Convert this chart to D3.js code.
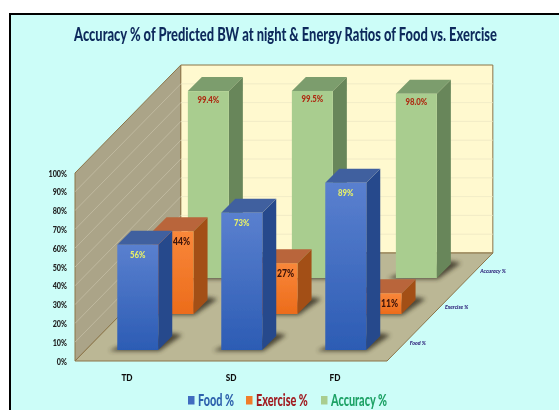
<!DOCTYPE html>
<html>
<head>
<meta charset="utf-8">
<script src="https://cdn.jsdelivr.net/npm/d3@7/dist/d3.min.js"></script>
<style>
  html, body { margin: 0; padding: 0; background: #fff; overflow: hidden; }
  svg { display: block; }
  text { font-family: Lato, "Open Sans", sans-serif; font-weight: 900; }
</style>
</head>
<body>
<div id="chart"></div>
<script>
const categories = ['TD', 'SD', 'FD'];
const seriesNames = ['Food %', 'Exercise %', 'Accuracy %'];
const foodValues = [56, 73, 89];
const exerciseValues = [44, 27, 11];
const accuracyValues = [99.4, 99.5, 98.0];
const accuracyLabels = ['99.4%', '99.5%', '98.0%'];
const yTicks = [0, 10, 20, 30, 40, 50, 60, 70, 80, 90, 100];

const width = 559, height = 410;
const svg = d3.select('#chart').append('svg').attr('width', width).attr('height', height);

const x = d3.scaleBand().domain(categories).range([75, 387]).paddingInner(0.606).paddingOuter(0.303);
const xStep = d3.scaleBand().domain(categories).range([75, 387]);
const y = d3.scaleLinear().domain([0, 100]).range([361, 173]);
const depth = d3.scaleBand().domain(seriesNames).range([0, 108]).paddingInner(0.611).paddingOuter(0.305);
const maxDepth = 108;
const skew = 0.98; // depth runs a little steeper than 45 degrees

const styles = {
  'Food %': { top: '#41609f', side: '#27498c', a: '#5a80cf', b: '#2c5cb4', label: '#e6ef6a', dx: 0, dy: 10, size: 10 },
  'Exercise %': { top: '#b9653a', side: '#a34f17', a: '#f9873a', b: '#ec6c1b', label: '#3c1208', dx: 8.5, dy: 10, size: 11 },
  'Accuracy %': { top: '#7b9d6d', side: '#68865a', a: '#a9cd8f', b: '#a9cd8f', label: '#ae2a12', dx: 0, dy: 8, size: 10 }
};

const defs = svg.append('defs');
defs.append('filter').attr('id', 'soft').attr('x', '-30%').attr('y', '-30%').attr('width', '160%').attr('height', '160%')
  .append('feGaussianBlur').attr('stdDeviation', 2);
defs.append('filter').attr('id', 'slight')
  .attr('filterUnits', 'userSpaceOnUse').attr('x', 0).attr('y', 0).attr('width', width).attr('height', height)
  .append('feGaussianBlur').attr('stdDeviation', 0.35);
seriesNames.forEach((s, i) => {
  const g = defs.append('linearGradient').attr('id', 'front' + i).attr('x1', 0).attr('y1', 0).attr('x2', 0).attr('y2', 1);
  g.append('stop').attr('offset', '0%').attr('stop-color', styles[s].a);
  g.append('stop').attr('offset', '100%').attr('stop-color', styles[s].b);
});

const pts = a => a.map(p => p.join(',')).join(' ');

// narrow text the way the condensed original font looks
function squeezed(parent, str, px, py, size, sx, anchor) {
  return parent.append('text')
    .attr('transform', `translate(${px},${py}) scale(${sx},1)`)
    .attr('dy', '0.35em').attr('text-anchor', anchor || 'middle')
    .attr('font-size', size).text(str);
}

svg.append('rect').attr('width', width).attr('height', height).attr('fill', '#fff');
svg.append('rect').attr('x', 10).attr('y', 14).attr('width', width).attr('height', height)
  .attr('fill', '#ccfdf8').attr('stroke', '#000').attr('stroke-width', 2);

const root = svg.append('g').attr('filter', 'url(#slight)');

// walls and floor
const x0 = xStep.range()[0], x1 = xStep.range()[1];
const backX0 = x0 + maxDepth * skew, backX1 = x1 + maxDepth * skew;
const backBase = y(0) - maxDepth, backTop = y(100) - maxDepth;
root.append('polygon')
  .attr('points', pts([[x0, y(0)], [backX0, backBase], [backX0, backTop], [x0, y(100)]]))
  .attr('fill', '#aba488').attr('stroke', '#8b7448').attr('stroke-width', 1);
root.append('polygon')
  .attr('points', pts([[backX0, backBase], [backX1, backBase], [backX1, backTop], [backX0, backTop]]))
  .attr('fill', '#fff9cf').attr('stroke', '#8b7448').attr('stroke-width', 1);
root.append('polygon')
  .attr('points', pts([[x0, y(0)], [x1, y(0)], [backX1, backBase], [backX0, backBase]]))
  .attr('fill', '#bbb795').attr('stroke', '#8b7448').attr('stroke-width', 1);

// gridlines on both walls
yTicks.slice(1, -1).forEach(t => {
  root.append('line').attr('x1', x0).attr('y1', y(t)).attr('x2', backX0).attr('y2', y(t) - maxDepth)
    .attr('stroke', '#c4bea4').attr('stroke-width', 0.8);
  root.append('line').attr('x1', backX0).attr('y1', y(t) - maxDepth).attr('x2', backX1).attr('y2', y(t) - maxDepth)
    .attr('stroke', '#eee8c4').attr('stroke-width', 0.8);
});

// bars, back row first
const rows = [
  { name: 'Food %', values: foodValues, labels: foodValues.map(v => v + '%') },
  { name: 'Exercise %', values: exerciseValues, labels: exerciseValues.map(v => v + '%') },
  { name: 'Accuracy %', values: accuracyValues, labels: accuracyLabels }
];

[2, 1, 0].forEach(r => {
  const row = rows[r], st = styles[row.name];
  const d = depth(row.name), dw = depth.bandwidth(), w = x.bandwidth();
  const g = root.append('g').attr('class', 'row');
  row.values.forEach((v, i) => {
    const left = x(categories[i]) + d * skew;
    const base = y(0) - d, top = base - (y(0) - y(v));
    const right = left + w;
    g.append('polygon')
      .attr('points', pts([[left - 8, base + 1], [right + 1, base + 1], [right + dw + 10, base - dw - 1], [right + dw, base - dw - 3], [left, base - 3]]))
      .attr('fill', '#3a3526').attr('opacity', 0.85).attr('filter', 'url(#soft)');
    g.append('polygon')
      .attr('points', pts([[right, top], [right + dw, top - dw], [right + dw, base - dw], [right, base]]))
      .attr('fill', st.side);
    g.append('polygon')
      .attr('points', pts([[left, top], [left + dw, top - dw], [right + dw, top - dw], [right, top]]))
      .attr('fill', st.top);
    g.append('rect').attr('x', left).attr('y', top).attr('width', w).attr('height', base - top)
      .attr('fill', `url(#front${r})`);
    squeezed(g, row.labels[i], left + w / 2 + st.dx, top + st.dy, st.size, 0.78).attr('fill', st.label);
  });
});

// y axis
const yAxis = root.append('g').attr('transform', `translate(${x0},0)`)
  .call(d3.axisLeft(y).tickValues(yTicks).tickSize(0).tickPadding(8).tickFormat(t => t + '%'));
yAxis.select('.domain').remove();
yAxis.selectAll('text').attr('x', 0).attr('transform', 'translate(-8,0) scale(0.76,1)')
  .attr('font-size', 9.5).attr('fill', '#222');

// category labels
categories.forEach(c => {
  squeezed(root, c, xStep(c) + xStep.bandwidth() / 2, 377, 10, 0.82).attr('fill', '#111');
});

// depth axis labels
seriesNames.forEach(s => {
  squeezed(root, s, x1 + (depth(s) + depth.bandwidth() / 2) * skew + 5, y(0) - depth(s) - depth.bandwidth() / 2, 6.2, 0.85, 'start')
    .attr('font-style', 'italic').attr('font-weight', 400).attr('fill', '#2c1f78');
});

// title
squeezed(root, 'Accuracy % of Predicted BW at night & Energy Ratios of Food vs. Exercise', 285.5, 35, 18, 0.717)
  .attr('fill', '#0f2a5c');

// legend
const legendItems = [
  { name: 'Food %', sx: 188, tx: 198, swatch: '#3f6cc0', color: '#2f62ad' },
  { name: 'Exercise %', sx: 246, tx: 256, swatch: '#f07d2c', color: '#a11d22' },
  { name: 'Accuracy %', sx: 321, tx: 331, swatch: '#a9cd8f', color: '#1fa266' }
];
const legend = root.append('g').attr('class', 'legend');
legendItems.forEach(l => {
  legend.append('rect').attr('x', l.sx).attr('y', 396).attr('width', 6.5).attr('height', 8.5).attr('fill', l.swatch);
  squeezed(legend, l.name, l.tx, 400, 16, 0.68, 'start').attr('fill', l.color);
});
</script>
</body>
</html>
